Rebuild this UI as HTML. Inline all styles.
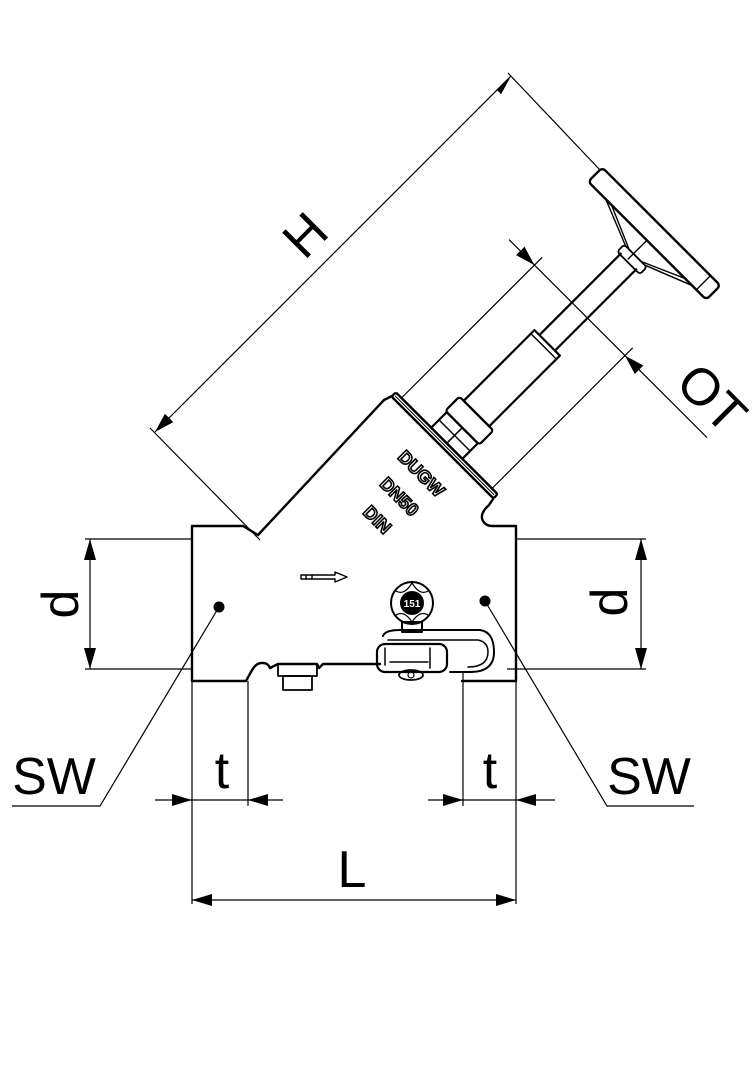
<!DOCTYPE html>
<html><head><meta charset="utf-8"><style>
html,body{margin:0;padding:0;background:#fff;}
svg{display:block;}
text{font-family:"Liberation Sans",sans-serif;}
</style></head><body>
<svg width="756" height="1080" viewBox="0 0 756 1080" xmlns="http://www.w3.org/2000/svg">
<g fill="none" stroke="#000" stroke-linejoin="round" stroke-linecap="round">
<path stroke-width="2.4" d="M192,526 H243 L258,535 L384,400 L392,396 M493,499 L489,505 Q479,514 483,521 Q486,526 492,526 H516 V681 H462 M192,526 V681 H246 L251,672 Q256,662 263,663 Q268,663 270,668 L278,664 H317 L319,668 L323,664 H380"/>
<rect x="278" y="664" width="39" height="12" stroke-width="1.8"/>
<rect x="283" y="676" width="29" height="14" stroke-width="1.8"/>
<path stroke-width="1.4" d="M301,575 H335 V572 L347,577 L335,582 V579 H301 Z M306,575 V579 M312,575 V579"/>
<circle cx="412" cy="603" r="21" stroke-width="2"/>
<path stroke-width="1.2" d="M396,591 Q404,596 412,583 M428,591 Q420,596 412,583 M396,615 Q404,610 412,622 M428,615 Q420,610 412,622"/>
<circle cx="412" cy="603" r="12" fill="#000" stroke="none"/>
<path stroke-width="2" d="M402,622 H422 V632 H402 Z"/>
<path stroke-width="2" d="M383,636 Q385,630 400,630 H480 Q494,632 494,652 Q494,672 470,672 H450"/>
<path stroke-width="1.5" d="M388,640 H478 Q488,642 488,652 Q488,667 468,667"/>
<rect x="377" y="644" width="70" height="28" rx="8" stroke-width="2.2"/>
<path stroke-width="1.5" d="M385,648 V665 M430,648 V668 M390,662 H428"/>
<ellipse cx="411" cy="675" rx="12" ry="5" stroke-width="1.8"/>
<circle cx="411" cy="675" r="3" stroke-width="1.2"/>
</g>
<circle cx="219" cy="607" r="5.5" fill="#000"/>
<circle cx="485" cy="601" r="5.5" fill="#000"/>
<text x="412" y="607" font-size="10" font-weight="bold" fill="#fff" text-anchor="middle">151</text>

<g font-weight="bold" font-size="18" fill="#fff" stroke="#000" stroke-width="1.6" text-anchor="middle">
<text transform="translate(417,478) rotate(45)">DUGW</text>
<text transform="translate(395,501) rotate(45)">DN50</text>
<text transform="translate(373,524) rotate(45)">DIN</text>
</g>

<g transform="translate(442.5,447.5) rotate(-45)" fill="none" stroke="#000" stroke-linejoin="round">
<rect x="0" y="-72" width="6" height="144" rx="2" stroke-width="2.4"/>
<line x1="3" y1="-70" x2="3" y2="70" stroke-width="1"/>
<rect x="6" y="-22" width="22" height="44" stroke-width="2.2"/>
<line x1="6" y1="0" x2="28" y2="0" stroke-width="1.6"/>
<line x1="17" y1="-22" x2="17" y2="22" stroke-width="1.4"/>
<rect x="28" y="-24" width="20" height="48" rx="3" stroke-width="2.2"/>
<rect x="48" y="-18" width="100" height="36" stroke-width="2.2"/>
<line x1="143" y1="-18" x2="143" y2="18" stroke-width="1.4"/>
<line x1="148" y1="-11" x2="264" y2="-11" stroke-width="2.2"/>
<line x1="148" y1="11" x2="264" y2="11" stroke-width="2.2"/>
<rect x="262" y="-15" width="10" height="32" rx="3" stroke-width="1.8"/>
<path stroke-width="1.4" d="M272,-13 L291,-60 M272,-8 L291,-52 M272,14 L291,62 M272,9 L291,52 M264,-2 H291"/>
<rect x="291" y="-85" width="20" height="167" rx="4" stroke-width="2.4"/>
<line x1="291" y1="68" x2="311" y2="68" stroke-width="1.4"/>
<line x1="6" y1="-64" x2="205" y2="-64" stroke-width="1.2"/>
<line x1="6" y1="64" x2="205" y2="64" stroke-width="1.2"/>
<line x1="194" y1="-100" x2="194" y2="180" stroke-width="1.2"/>
<polygon points="194,-64 188,-84 200,-84" fill="#000" stroke="none"/>
<polygon points="194,64 188,84 200,84" fill="#000" stroke="none"/>
</g>

<g stroke="#000" stroke-width="1.2" fill="none">
<line x1="260" y1="540" x2="150" y2="428"/>
<line x1="600" y1="170" x2="508" y2="73"/>
<line x1="155" y1="432" x2="511" y2="76"/>
<line x1="85" y1="539" x2="192" y2="539"/>
<line x1="85" y1="669" x2="192" y2="669"/>
<line x1="90" y1="539" x2="90" y2="669"/>
<line x1="516" y1="539" x2="646" y2="539"/>
<line x1="507" y1="669" x2="646" y2="669"/>
<line x1="641" y1="539" x2="641" y2="669"/>
<polyline points="219,607 100,806 12,806"/>
<polyline points="485,601 607,806 694,806"/>
<line x1="192" y1="681" x2="192" y2="904"/>
<line x1="248" y1="681" x2="248" y2="806"/>
<line x1="155" y1="800" x2="283" y2="800"/>
<line x1="463" y1="672" x2="463" y2="806"/>
<line x1="516" y1="681" x2="516" y2="904"/>
<line x1="428" y1="800" x2="555" y2="800"/>
<line x1="192" y1="900" x2="516" y2="900"/>
</g>
<g fill="#000">
<polygon points="155,432 169.1,417.9 173.3,422.1"/>
<polygon points="155,432 169.1,417.9 164.9,413.7"/>
<polygon points="511,76 501.1,94.3 492.7,85.9 496.9,90.1"/>
<polygon points="90,539 84,560 96,560"/>
<polygon points="90,669 84,648 96,648"/>
<polygon points="641,539 635,560 647,560"/>
<polygon points="641,669 635,648 647,648"/>
<polygon points="192,800 172,794 172,806"/>
<polygon points="248,800 268,794 268,806"/>
<polygon points="463,800 443,794 443,806"/>
<polygon points="516,800 536,794 536,806"/>
<polygon points="192,900 212,894 212,906"/>
<polygon points="516,900 496,894 496,906"/>
</g>

<g font-size="52" fill="#000" text-anchor="middle">
<text transform="translate(305,235) rotate(-45)" dy="18">H</text>
<text transform="translate(712,398) rotate(45)" dy="18">OT</text>
<text transform="translate(60,604) rotate(-90)" dy="18">d</text>
<text transform="translate(609,602) rotate(-90)" dy="18">d</text>
<text x="54" y="794">SW</text>
<text x="649" y="794">SW</text>
<text x="222" y="788">t</text>
<text x="490" y="788">t</text>
<text x="352" y="887">L</text>
</g>
</svg>
</body></html>
